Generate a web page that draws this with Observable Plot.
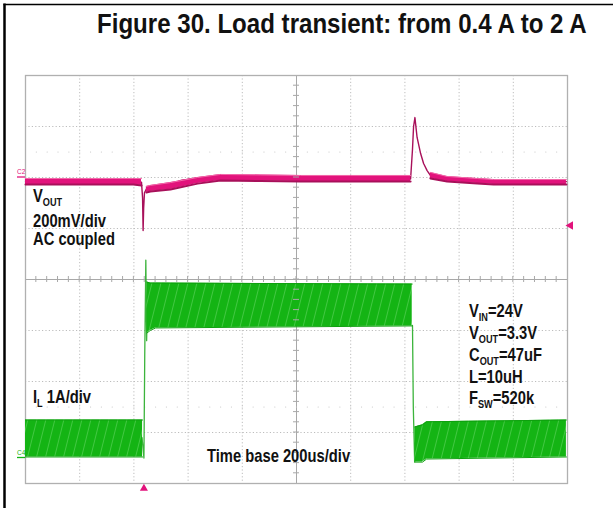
<!DOCTYPE html>
<html><head><meta charset="utf-8">
<script src="https://cdn.jsdelivr.net/npm/d3@7"></script>
<script src="https://cdn.jsdelivr.net/npm/@observablehq/plot@0.6"></script>
<style>
html,body{margin:0;padding:0;background:#fff;}
#wrap{position:relative;width:613px;height:508px;overflow:hidden;background:#fff;}
</style></head><body><div id="wrap"></div>
<script>
// ---- channel settings ----
const C2_OFFSET_DIV = 2;      // VOUT ground marker (divisions)
const C4_OFFSET_DIV = -3.5;   // IL zero marker (divisions)
const MV_PER_DIV = 200;
const A_PER_DIV = 1;

// ---- VOUT (C2), mV, thin trace through dip and spike ----
const vTime = [0, 398, 428, 432, 434, 436, 439, 446, 461, 535, 572, 635, 720, 867, 1015, 1200, 1384, 1421, 1428, 1432, 1437, 1445, 1458, 1469, 1482, 1494, 1556, 1667, 1727, 1996];
const vMv   = [-16, -16, -18, -80, -208, -120, -60, -45, -43, -27, -12, -2, 4, 0, -2, -4, -4, -6, 110, 200, 235, 157, 94, 55, 27, 8, -4, -8, -16, -16];

// ---- VOUT ripple band envelope, mV (null = gap) ----
const vBandTime = [0, 398, 428, 430, 446, 461, 535, 635, 720, 867, 1015, 1200, 1421, 1424, 1494, 1556, 1667, 1727, 1996];
const vBandHi   = [-4, -4, -4, null, -35, -31, -20, 0, 12, 10, 8, 8, 8, null, 20, 4, -4, -8, -8];
const vBandLo   = [-27, -27, -31, null, -59, -55, -47, -24, -12, -14, -16, -16, -16, null, -4, -16, -24, -27, -27];

// ---- IL (C4), A, thin trace through the edges ----
const iEdgeTime = [430, 437, 440, 444, 447, 451, 1427, 1428, 1431, 1436, 1440];
const iEdgeAmp  = [0.4, 0.0, 2.0, 3.88, 2.3, 3.35, null, 2.6, 1.0, -0.08, 0.4];

// ---- IL ripple band envelope, A (null = gap) ----
const iBandTime = [0, 432, 435, 448, 460, 480, 1427, 1430, 1437, 1465, 1480, 1996];
const iBandHi   = [0.745, 0.745, null, 3.45, 3.43, 3.43, 3.41, null, 0.61, 0.65, 0.71, 0.745];
const iBandLo   = [0.02, 0.02, null, 2.45, 2.5, 2.55, 2.59, null, -0.08, -0.08, -0.02, 0.02];

// ---- graticule ----
const gridTimes = [200, 400, 600, 800, 1200, 1400, 1600, 1800];
const gridDivs  = [-3, -2, -1, 1, 2, 3];
const minorTimes = d3.range(40, 2000, 40);
const minorDivs  = d3.range(-3.8, 4, 0.2);
const triggerTime = 437;
const triggerLevelMv = -188;

const vRows = vTime.map((t, i) => ({t, y: C2_OFFSET_DIV + vMv[i] / MV_PER_DIV}));
const vBand = vBandTime.map((t, i) => ({t,
  hi: vBandHi[i] == null ? NaN : C2_OFFSET_DIV + vBandHi[i] / MV_PER_DIV,
  lo: vBandLo[i] == null ? NaN : C2_OFFSET_DIV + vBandLo[i] / MV_PER_DIV}));
const iRows = iEdgeTime.map((t, i) => ({t, y: iEdgeAmp[i] == null ? NaN : C4_OFFSET_DIV + iEdgeAmp[i] / A_PER_DIV}));
const iBand = iBandTime.map((t, i) => ({t,
  hi: iBandHi[i] == null ? NaN : C4_OFFSET_DIV + iBandHi[i] / A_PER_DIV,
  lo: iBandLo[i] == null ? NaN : C4_OFFSET_DIV + iBandLo[i] / A_PER_DIV}));

const PINK = "#e2137c", PINK_DARK = "#a8105a", PINK_LIGHT = "#f36aaa";
const GREEN = "#14b414", GREEN_EDGE = "#0f9f0f", GREEN_LINE = "#3cb43c";
const GRID = "#bdbdbd";

const chart = Plot.plot({
  width: 613, height: 508,
  marginLeft: 25, marginRight: 46, marginTop: 75, marginBottom: 25,
  x: {type: "linear", domain: [0, 2000], axis: null},
  y: {type: "linear", domain: [-4, 4], axis: null},
  style: {background: "white", overflow: "visible"},
  marks: [
    Plot.ruleX(gridTimes, {stroke: GRID, strokeDasharray: "1.2,2.2"}),
    Plot.ruleY(gridDivs, {stroke: GRID, strokeDasharray: "1.2,2.2"}),
    Plot.ruleX([1000], {stroke: "#a8a8a8"}),
    Plot.ruleY([0], {stroke: "#a8a8a8"}),
    Plot.dot(minorTimes, {x: d => d, y: () => 2.5, r: 0.6, fill: "#c4c4c4", stroke: null}),
    Plot.dot(minorTimes, {x: d => d, y: () => -2.5, r: 0.6, fill: "#c4c4c4", stroke: null}),
    Plot.frame({stroke: "#b0b0b0", strokeWidth: 1.3}),
    // VOUT
    Plot.line(vRows, {x: "t", y: "y", stroke: PINK_DARK, strokeWidth: 1.4}),
    Plot.areaY(vBand, {x: "t", y1: "lo", y2: "hi", fill: PINK}),
    Plot.line(vBand, {x: "t", y: "lo", stroke: PINK_DARK, strokeWidth: 2}),
    Plot.line(vBand, {x: "t", y: "hi", stroke: PINK_LIGHT, strokeWidth: 1}),
    // IL
    Plot.line(iRows, {x: "t", y: "y", stroke: GREEN_LINE, strokeWidth: 1.3}),
    Plot.areaY(iBand, {x: "t", y1: "lo", y2: "hi", fill: "url(#hatch)"}),
    Plot.line(iBand, {x: "t", y: "hi", stroke: GREEN_EDGE, strokeWidth: 1}),
    Plot.line(iBand, {x: "t", y: "lo", stroke: GREEN_EDGE, strokeWidth: 1}),
    // markers
    Plot.dot([triggerTime], {x: d => d, frameAnchor: "bottom", dy: 5, symbol: "triangle", r: 3, fill: PINK, stroke: null}),
    Plot.dot([C2_OFFSET_DIV + triggerLevelMv / MV_PER_DIV], {y: d => d, frameAnchor: "right", dx: 3, symbol: "triangle", rotate: -90, r: 3.2, fill: PINK, stroke: null})
  ]
});

document.getElementById("wrap").appendChild(chart);
const svg = d3.select(chart);
const xs = chart.scale("x"), ys = chart.scale("y");

const defs = svg.insert("defs", ":first-child");
const pat = defs.append("pattern").attr("id", "hatch").attr("patternUnits", "userSpaceOnUse")
  .attr("width", 9).attr("height", 60).attr("patternTransform", "skewX(-14)");
pat.append("rect").attr("width", 9).attr("height", 60).attr("fill", GREEN);
pat.append("rect").attr("x", 6).attr("width", 1).attr("height", 60).attr("fill", "#6ad86a").attr("opacity", 0.55);

// minor ticks on the centre lines
const tickG = svg.append("g").attr("stroke", "#a8a8a8").attr("stroke-width", 1);
minorTimes.forEach(t => tickG.append("line").attr("x1", xs.apply(t)).attr("x2", xs.apply(t)).attr("y1", ys.apply(0) - 3).attr("y2", ys.apply(0) + 3));
minorDivs.forEach(v => tickG.append("line").attr("y1", ys.apply(v)).attr("y2", ys.apply(v)).attr("x1", xs.apply(1000) - 3).attr("x2", xs.apply(1000) + 3));

// channel markers
function chanMark(name, div, color) {
  const y = ys.apply(div);
  svg.append("line").attr("x1", 17).attr("x2", 25).attr("y1", y).attr("y2", y).attr("stroke", color).attr("stroke-width", 1.3);
  svg.append("text").attr("x", 17).attr("y", y - 3).attr("text-anchor", "start")
    .attr("font-family", "'Liberation Sans',Arial,sans-serif").attr("font-size", 6.5).attr("fill", color).text(name);
}
chanMark("C2", C2_OFFSET_DIV, PINK);
chanMark("C4", C4_OFFSET_DIV, GREEN);

// page border (left and top)
svg.append("line").attr("x1", 4.5).attr("x2", 4.5).attr("y1", 3.5).attr("y2", 508).attr("stroke", "#000").attr("stroke-width", 2.5);
svg.append("line").attr("x1", 3.5).attr("x2", 613).attr("y1", 4.5).attr("y2", 4.5).attr("stroke", "#000").attr("stroke-width", 1.5);

const FONT = "'Liberation Sans',Arial,sans-serif";
function label(x, y, parts, size, sx) {
  const t = svg.append("text").attr("transform", `translate(${x},${y}) scale(${sx},1)`).attr("text-anchor", "start")
    .attr("font-family", FONT).attr("font-weight", "bold").attr("font-size", size).attr("fill", "#111");
  let sub = false;
  parts.forEach(p => {
    const isSub = Array.isArray(p);
    const s = isSub ? p[0] : p;
    const ts = t.append("tspan").text(s);
    if (isSub) { ts.attr("font-size", size * 0.62).attr("dy", 4); sub = true; }
    else if (sub) { ts.attr("dy", -4); sub = false; }
  });
  return t;
}
const SX = 0.82;
label(97, 33, ["Figure 30. Load transient: from 0.4 A to 2 A"], 28, 0.86);
label(33, 202, ["V", ["OUT"]], 18, SX);
label(33, 226.5, ["200mV/div"], 18, SX);
label(33, 245, ["AC coupled"], 18, SX);
label(33, 403, ["I", ["L"], " 1A/div"], 18, SX);
label(207, 462, ["Time base 200us/div"], 18, SX);
label(469, 317, ["V", ["IN"], "=24V"], 18, SX);
label(469, 338.5, ["V", ["OUT"], "=3.3V"], 18, SX);
label(469, 360.5, ["C", ["OUT"], "=47uF"], 18, SX);
label(469, 382.5, ["L=10uH"], 18, SX);
label(469, 404, ["F", ["SW"], "=520k"], 18, SX);
</script></body></html>
